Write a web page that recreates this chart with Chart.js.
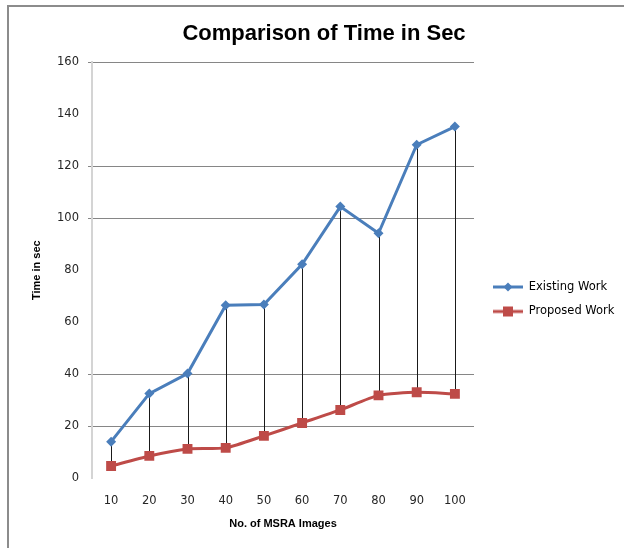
<!DOCTYPE html>
<html>
<head>
<meta charset="utf-8">
<script src="https://cdn.jsdelivr.net/npm/chart.js@4.4.1/dist/chart.umd.min.js"></script>
<style>
  html, body { margin: 0; padding: 0; background: #fff; }
  canvas { display: block; }
</style>
</head>
<body>
<canvas id="myChart" width="624" height="548"></canvas>
<script>
// data
const imageCounts = ['10', '20', '30', '40', '50', '60', '70', '80', '90', '100'];
const existingWork = [14, 32.5, 40.2, 66.5, 66.8, 82.3, 104.5, 94.2, 128.3, 135.3];
const proposedWork = [4.6, 8.5, 11.2, 11.6, 16.2, 21.2, 26.2, 31.8, 33, 32.4];
// only these grid lines survive in the scanned original
const gridValues = [20, 40, 100, 120, 160];

const blue = '#4a7ebb';
const red = '#be4b48';

// little line+marker picture for the legend (excel style)
function legendIcon(color, marker) {
  const c = document.createElement('canvas');
  c.width = 36; c.height = 12;
  const g = c.getContext('2d');
  g.strokeStyle = color;
  g.lineWidth = 3;
  g.beginPath(); g.moveTo(6, 6); g.lineTo(36, 6); g.stroke();
  g.fillStyle = color;
  if (marker == 'diamond') {
    g.beginPath();
    g.moveTo(21, 1.5); g.lineTo(25.5, 6); g.lineTo(21, 10.5); g.lineTo(16.5, 6);
    g.closePath(); g.fill();
  } else {
    g.fillRect(16, 1, 10, 10);
  }
  return c;
}
const icons = [legendIcon(blue, 'diamond'), legendIcon(red, 'square')];

// frame round the chart (only top and left show in the scan)
const frame = {
  id: 'frame',
  beforeDraw(chart) {
    const ctx = chart.ctx;
    ctx.save();
    ctx.fillStyle = '#fff';
    ctx.fillRect(0, 0, chart.width, chart.height);
    ctx.strokeStyle = '#8c8c8c';
    ctx.lineWidth = 2;
    ctx.beginPath();
    ctx.moveTo(8, chart.height);
    ctx.lineTo(8, 6);
    ctx.lineTo(chart.width, 6);
    ctx.stroke();
    ctx.restore();
  }
};

// vertical drop lines between the two series
const dropLines = {
  id: 'dropLines',
  beforeDatasetsDraw(chart) {
    const {ctx, scales: {x, y}} = chart;
    ctx.save();
    ctx.strokeStyle = '#1a1a1a';
    ctx.lineWidth = 1;
    for (let i = 0; i < imageCounts.length; i++) {
      const px = Math.round(x.getPixelForValue(i)) + 0.5;
      ctx.beginPath();
      ctx.moveTo(px, y.getPixelForValue(existingWork[i]));
      ctx.lineTo(px, y.getPixelForValue(proposedWork[i]));
      ctx.stroke();
    }
    ctx.restore();
  }
};

const data = {
  labels: imageCounts,
  datasets: [{
    label: 'Existing Work',
    data: existingWork,
    borderColor: blue,
    backgroundColor: blue,
    borderWidth: 3,
    pointStyle: 'rectRot',
    pointRadius: 5,
    pointBorderWidth: 0,
    tension: 0
  }, {
    label: 'Proposed Work',
    data: proposedWork,
    borderColor: red,
    backgroundColor: red,
    borderWidth: 3,
    pointStyle: 'rect',
    pointRadius: 7,
    pointBorderWidth: 0,
    tension: 0.2
  }]
};

const config = {
  type: 'line',
  data,
  options: {
    responsive: false,
    animation: false,
    layout: { padding: { left: 24, right: 0, top: 10, bottom: 8 } },
    plugins: {
      title: {
        display: true,
        text: 'Comparison of Time in Sec',
        color: '#000',
        font: { family: 'Liberation Sans', size: 22, weight: 'bold' },
        padding: { top: 11, bottom: 15 }
      },
      legend: {
        position: 'right',
        align: 'center',
        title: { display: true, text: ' ', padding: { top: 0, bottom: 34 } },
        labels: {
          usePointStyle: true,
          pointStyleWidth: 36,
          padding: 13,
          color: '#000',
          font: { family: 'DejaVu Sans', size: 11.5 },
          generateLabels: (chart) => chart.data.datasets.map((ds, i) => ({
            text: ds.label,
            pointStyle: icons[i],
            fillStyle: ds.borderColor,
            strokeStyle: ds.borderColor,
            fontColor: '#000',
            lineWidth: 0,
            hidden: false,
            datasetIndex: i
          }))
        }
      },
      tooltip: { enabled: false }
    },
    scales: {
      x: {
        offset: true,
        grid: { display: false, drawTicks: false },
        border: { display: false },
        ticks: { color: '#262626', padding: 16, font: { family: 'DejaVu Sans', size: 11.5 } },
        title: {
          display: true,
          text: 'No. of MSRA Images',
          color: '#000',
          font: { family: 'Liberation Sans', size: 11, weight: 'bold' },
          padding: { top: 0, bottom: 9 }
        },
        afterFit: (scale) => { scale.height = 62; }
      },
      y: {
        min: 0,
        max: 160,
        ticks: { stepSize: 20, color: '#262626', padding: 9, font: { family: 'DejaVu Sans', size: 11.5 } },
        grid: {
          color: (ctx) => gridValues.includes(ctx.tick.value) ? '#868686' : 'transparent',
          tickLength: 4
        },
        border: { color: '#d4d4d4', width: 2 },
        title: {
          display: true,
          text: 'Time in sec',
          color: '#000',
          font: { family: 'Liberation Sans', size: 11, weight: 'bold' },
          padding: { top: 6, bottom: 0 }
        },
        afterFit: (scale) => { scale.width = 68; }
      }
    }
  },
  plugins: [frame, dropLines]
};

const myChart = new Chart(document.getElementById('myChart'), config);
</script>
</body>
</html>
